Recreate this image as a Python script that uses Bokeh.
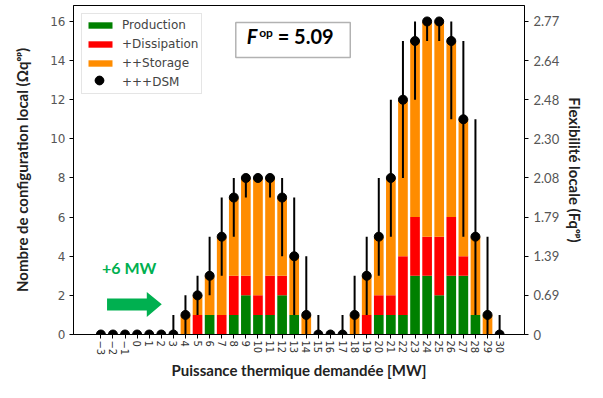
import math
from bokeh.plotting import figure
from bokeh.models import (ColumnDataSource, FixedTicker, LinearAxis, Legend,
                          LegendItem, Label, BoxAnnotation, Range1d)
from bokeh.embed import file_html
from bokeh.resources import INLINE

# ---------------- data ----------------
puissance = list(range(-3, 31))
# cumulative number of configurations
production = [0, 0, 0, 0, 0, 0, 0,
              0, 0, 1, 0, 1, 2, 1, 1, 2, 1, 0, 0, 0, 0, 0, 0,
              1, 1, 1, 3, 3, 2, 3, 3, 1, 0, 0]
dissipation = [0, 0, 0, 0, 0, 0, 0,
               0, 1, 1, 1, 3, 3, 2, 3, 3, 1, 0, 0, 0, 0, 0, 1,
               2, 2, 4, 6, 5, 5, 6, 4, 1, 0, 0]
storage = [0, 0, 0, 0, 0, 0, 0,
           1, 2, 3, 5, 7, 8, 8, 8, 7, 4, 1, 0, 0, 0, 1, 3,
           5, 8, 12, 15, 16, 16, 15, 11, 5, 1, 0]
dsm = [0, 0, 0, 0, 0, 0, 0,
       1, 2, 3, 5, 7, 8, 8, 8, 7, 4, 1, 0, 0, 0, 1, 3,
       5, 8, 12, 15, 16, 16, 15, 11, 5, 1, 0]
dsm_low = [0, 0, 0, 0, 0, 0, 0,
           0, 1, 2, 3, 5, 7, 8, 7, 4, 1, 0, 0, 0, 0, 0, 1,
           3, 5, 8, 12, 15, 15, 11, 5, 1, 0, 0]
dsm_high = [0, 0, 0, 0, 0, 0, 1,
            2, 3, 5, 7, 8, 8, 8, 8, 8, 7, 4, 1, 0, 1, 3, 5,
            8, 12, 15, 16, 16, 16, 16, 15, 11, 5, 1]
left_ticks = [0, 2, 4, 6, 8, 10, 12, 14, 16]
right_tick_labels = ["0", "0.69", "1.39", "1.79", "2.08", "2.30", "2.48", "2.64", "2.77"]
f_op_value = "5.09"
shift_text = "+6 MW"

src = ColumnDataSource(dict(x=puissance, prod=production, diss=dissipation,
                            stor=storage, dsm=dsm, lo=dsm_low, hi=dsm_high))

GREEN = "#008000"
RED = "#ff0000"
ORANGE = "#ff8c00"

p = figure(width=587, height=382,
           x_range=Range1d(-5.266, 32.06), y_range=Range1d(0, 16.815),
           output_backend="svg", toolbar_location=None,
           min_border_left=73, min_border_right=61,
           min_border_top=5, min_border_bottom=47)
p.xgrid.visible = False
p.ygrid.visible = False
p.outline_line_color = "black"
p.outline_line_width = 1
p.background_fill_color = "white"

r_prod = p.vbar(x="x", bottom=0, top="prod", width=0.8, source=src,
                fill_color=GREEN, line_color=None)
r_diss = p.vbar(x="x", bottom="prod", top="diss", width=0.8, source=src,
                fill_color=RED, line_color=None)
r_stor = p.vbar(x="x", bottom="diss", top="stor", width=0.8, source=src,
                fill_color=ORANGE, line_color=None)
r_err = p.segment(x0="x", y0="lo", x1="x", y1="hi", source=src,
                  line_color="black", line_width=2)
r_dot = p.scatter(x="x", y="dsm", source=src, size=9,
                  fill_color="black", line_color="black")
r_dash = p.scatter(x=[float("nan")], y=[float("nan")], marker="dash",
                   angle=math.pi / 2, line_color="black", line_width=2)

# ---------------- axes ----------------
tick_font = "DejaVu Sans"
label_font = "Lato"

xa = p.xaxis[0]
xa.ticker = FixedTicker(ticks=puissance)
xa.major_label_overrides = {v: ("\u2212" + str(-v) if v < 0 else str(v)) for v in puissance}
xa.major_label_orientation = -math.pi / 2
xa.major_label_text_font = tick_font
xa.major_label_text_font_size = "10px"
xa.major_label_text_color = "#333333"
xa.major_label_standoff = 2
xa.minor_tick_line_color = None
xa.major_tick_out = 4
xa.major_tick_in = 0
xa.axis_label = "Puissance thermique demandée [MW]"
xa.axis_label_text_font = label_font
xa.axis_label_text_font_style = "bold"
xa.axis_label_text_font_size = "15px"
xa.axis_label_text_color = "#222222"
xa.axis_label_standoff = 3

ya = p.yaxis[0]
ya.ticker = FixedTicker(ticks=left_ticks)
ya.major_label_text_font = tick_font
ya.major_label_text_font_size = "12px"
ya.major_label_text_color = "#555555"
ya.major_label_standoff = 4
ya.minor_tick_line_color = None
ya.major_tick_out = 4
ya.major_tick_in = 0
ya.axis_label = "Nombre de configuration local (Ωqᵒᵖ)"
ya.axis_label_text_font = label_font
ya.axis_label_text_font_style = "bold"
ya.axis_label_text_font_size = "15px"
ya.axis_label_text_color = "#222222"
ya.axis_label_standoff = 16

ra = LinearAxis(ticker=FixedTicker(ticks=left_ticks))
ra.major_label_overrides = {t: lab for t, lab in zip(left_ticks, right_tick_labels)}
ra.major_label_text_font = label_font
ra.major_label_text_font_size = "13px"
ra.major_label_text_color = "#555555"
ra.major_label_standoff = 5
ra.minor_tick_line_color = None
ra.major_tick_out = 4
ra.major_tick_in = 0
ra.axis_label = "Flexibilité locale (Fqᵒᵖ)"
ra.axis_label_text_font = label_font
ra.axis_label_text_font_style = "bold"
ra.axis_label_text_font_size = "15px"
ra.axis_label_text_color = "#222222"
ra.axis_label_standoff = 4
p.add_layout(ra, "right")

# ---------------- legends ----------------
leg_a = Legend(items=[
    LegendItem(label="Production", renderers=[r_prod]),
    LegendItem(label="+Dissipation", renderers=[r_diss]),
    LegendItem(label="++Storage", renderers=[r_stor]),
    LegendItem(label="+++DSM", renderers=[r_dot]),
], location="top_left", glyph_width=30, glyph_height=8, label_height=16,
    spacing=3, padding=3, margin=8, label_standoff=7,
    label_text_font=tick_font, label_text_font_size="12px",
    border_line_color="#cccccc", border_line_width=1,
    background_fill_color="white", background_fill_alpha=0.85)
p.add_layout(leg_a)

leg_b = Legend(items=[LegendItem(label="", renderers=[r_dash, r_dot])],
               location=(11, 243), glyph_width=30, glyph_height=22,
               label_height=22, spacing=0, padding=0, margin=0,
               border_line_color=None, background_fill_alpha=0)
p.add_layout(leg_b)

# ---------------- annotations ----------------
p.add_layout(BoxAnnotation(left=8.165, right=17.64, bottom=14.16, top=15.95,
                           fill_color="white", fill_alpha=1,
                           line_color="black", line_width=1.5))
p.add_layout(Label(x=9.07, y=14.63, text="F", text_font=label_font,
                   text_font_style="bold italic", text_font_size="20px",
                   text_color="black"))
p.add_layout(Label(x=10.10, y=15.06, text="op", text_font=label_font,
                   text_font_style="bold", text_font_size="12px",
                   text_color="black"))
p.add_layout(Label(x=11.63, y=14.63, text="= " + f_op_value, text_font=label_font,
                   text_font_style="bold", text_font_size="20px",
                   text_color="black"))

# green shift arrow
arrow_x = [-2.49, 0.80, 0.80, 2.04, 0.80, 0.80, -2.49]
arrow_y = [1.23, 1.23, 0.89, 1.54, 2.17, 1.84, 1.84]
p.patch(arrow_x, arrow_y, fill_color="#00b050", line_color=None)
p.add_layout(Label(x=-2.91, y=2.92, text=shift_text, text_font=label_font,
                   text_font_style="bold", text_font_size="16px",
                   text_color="#00b050"))

open("out.html", "w").write(file_html(p, INLINE))
